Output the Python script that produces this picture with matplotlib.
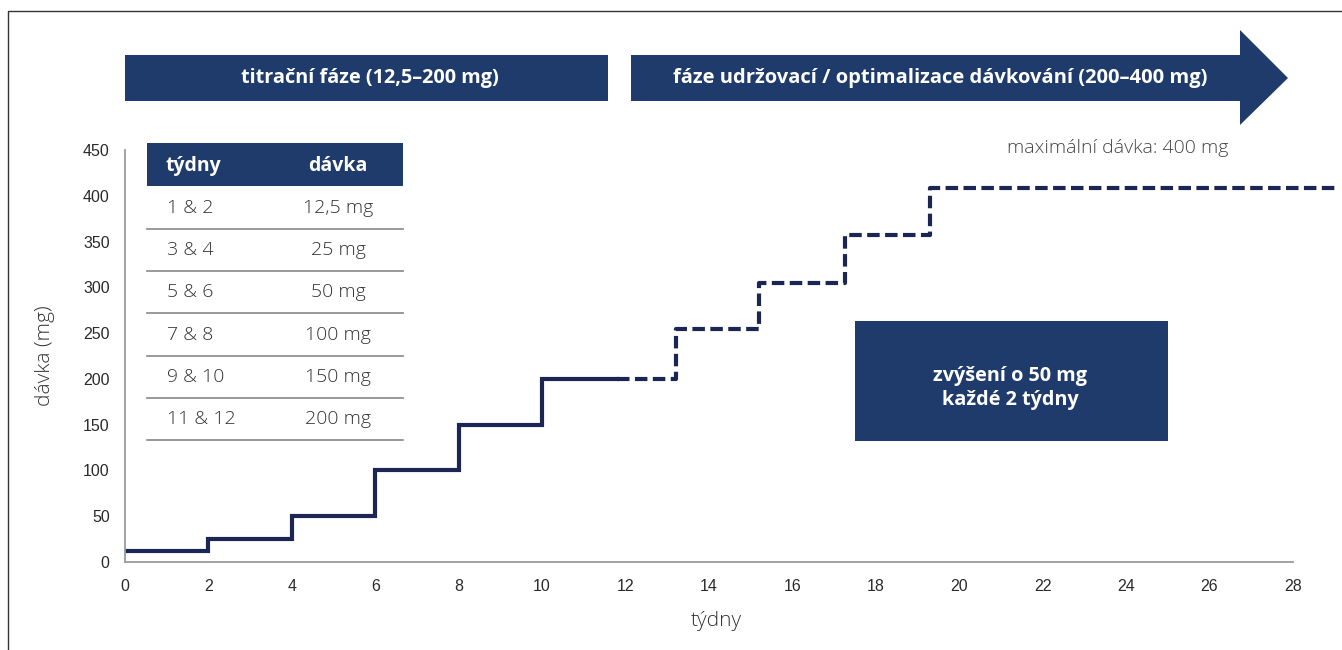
import matplotlib
matplotlib.use("Agg")
import matplotlib.pyplot as plt
from matplotlib.patches import Polygon, Rectangle
from matplotlib.lines import Line2D

# data
weeks_solid = [0, 2, 4, 6, 8, 10, 11.8]
dose_solid = [12.5, 25, 50, 100, 150, 200, 200]
weeks_dashed = [11.8, 13.2, 15.2, 17.25, 19.3, 29]
dose_dashed = [200, 255, 305, 357, 408, 408]

x_ticks = list(range(0, 29, 2))
y_ticks = list(range(0, 451, 50))

table_weeks = ["1 & 2", "3 & 4", "5 & 6", "7 & 8", "9 & 10", "11 & 12"]
table_doses = ["12,5 mg", "25 mg", "50 mg", "100 mg", "150 mg", "200 mg"]

NAVY = "#1f3b6c"
LINE = "#1b2653"
W, H = 1342, 650
TXT = "Open Sans"


def fx(x):
    return x / W


def fy(y):
    return 1 - y / H


def main():
    fig = plt.figure(figsize=(W / 100, H / 100), dpi=100)
    fig.patch.set_facecolor("white")

    ax = fig.add_axes([fx(125), fy(562), (1334.6 - 125) / W, (562 - 150) / H])
    ax.step(weeks_solid, dose_solid, where="post", color=LINE, lw=3,
            solid_joinstyle="miter")
    ax.step(weeks_dashed, dose_dashed, where="post", color=LINE, lw=3,
            linestyle=(0, (3, 1.3)))
    ax.set_xlim(0, 29)
    ax.set_ylim(0, 450)
    ax.set_xticks(x_ticks)
    ax.set_yticks(y_ticks)
    ax.tick_params(length=0, labelsize=11.5, labelcolor="#2a2a2a")
    ax.tick_params(axis="y", pad=11)
    ax.tick_params(axis="x", pad=12)
    for lab in ax.get_xticklabels() + ax.get_yticklabels():
        lab.set_family("Liberation Sans")
    for s in ["top", "right"]:
        ax.spines[s].set_visible(False)
    ax.spines["left"].set_color("#9a9a9a")
    ax.spines["bottom"].set_color("#9a9a9a")
    ax.spines["left"].set_linewidth(1.3)
    ax.spines["bottom"].set_linewidth(1.3)
    ax.spines["bottom"].set_bounds(0, 28)
    ax.patch.set_alpha(0)

    fig.text(fx(45), fy(356), "dávka (mg)", rotation=90, ha="center", va="center",
             family=TXT, fontweight="light", fontsize=15, color="#333333")
    fig.text(fx(716), fy(621), "týdny", ha="center", va="center",
             family=TXT, fontweight="light", fontsize=15, color="#333333")

    # frame
    fig.add_artist(Line2D([fx(8), fx(8), 1], [0, fy(11), fy(11)],
                          transform=fig.transFigure, color="#333333", lw=1))

    # phase bars
    fig.add_artist(Rectangle((fx(125), fy(101)), (608 - 125) / W, 46 / H,
                             transform=fig.transFigure, color=NAVY, lw=0))
    fig.text(fx(370), fy(78), "titrační fáze (12,5–200 mg)", ha="center", va="center",
             family=TXT, fontweight="bold", fontsize=14.3, color="white")
    arrow = [(631, 55), (1240, 55), (1240, 30), (1288, 78), (1240, 125), (1240, 101), (631, 101)]
    fig.add_artist(Polygon([(fx(a), fy(b)) for a, b in arrow], closed=True,
                           transform=fig.transFigure, color=NAVY, lw=0))
    fig.text(fx(940), fy(78), "fáze udržovací / optimalizace dávkování (200–400 mg)",
             ha="center", va="center", family=TXT, fontweight="bold", fontsize=14.5,
             color="white")

    fig.text(fx(1228), fy(148), "maximální dávka: 400 mg", ha="right", va="center",
             family=TXT, fontweight="light", fontsize=14, color="#444444")

    # increase box
    fig.add_artist(Rectangle((fx(855), fy(441)), (1168 - 855) / W, 120 / H,
                             transform=fig.transFigure, color=NAVY, lw=0))
    fig.text(fx(1010), fy(388), "zvýšení o 50 mg\nkaždé 2 týdny", ha="center", va="center",
             family=TXT, fontweight="bold", fontsize=14.3, color="white", linespacing=1.3)

    # dose table
    fig.add_artist(Rectangle((fx(147), fy(186)), (403 - 147) / W, 43 / H,
                             transform=fig.transFigure, color=NAVY, lw=0))
    fig.text(fx(166), fy(166), "týdny", ha="left", va="center", family=TXT,
             fontweight="bold", fontsize=14, color="white")
    fig.text(fx(338), fy(166), "dávka", ha="center", va="center", family=TXT,
             fontweight="bold", fontsize=14, color="white")
    for i, (wk, ds) in enumerate(zip(table_weeks, table_doses)):
        yc = 208 + i * 42.2
        fig.text(fx(167), fy(yc), wk, ha="left", va="center", family=TXT,
                 fontweight="light", fontsize=14, color="#333333")
        fig.text(fx(338), fy(yc), ds, ha="center", va="center", family=TXT,
                 fontweight="light", fontsize=14, color="#333333")
        ly = yc + 21
        fig.add_artist(Line2D([fx(147), fx(403)], [fy(ly), fy(ly)],
                              transform=fig.transFigure, color="#888888", lw=1.2))

    fig.savefig("out.png", dpi=100)


if __name__ == "__main__":
    main()
